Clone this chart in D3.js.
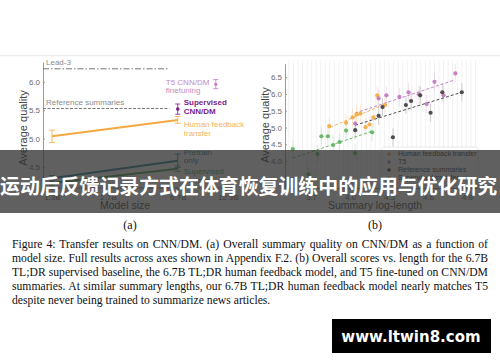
<!DOCTYPE html>
<html>
<head>
<meta charset="utf-8">
<script src="https://cdn.jsdelivr.net/npm/d3@7"></script>
<style>
  body { margin: 0; background: #fff; }
  svg { display: block; font-family: "Liberation Sans", Arial, sans-serif; }
</style>
</head>
<body>
<svg id="fig" width="500" height="362"></svg>
<script>
// ---- panel (a): quality vs. model size ----
const sizeLabels = ['1.3B', '2.7B', '6.7B', '12.9B'];
const sizeValues = [1.3, 2.7, 6.7, 12.9];
const qualityTicksA = [4.5, 5.0, 5.5, 6.0];
const hfTransfer = [{ size: 1.3, q: 5.04, err: 0.11 }, { size: 6.7, q: 5.33, err: 0.06 }];
const pretrainOnly = [{ size: 1.3, q: 4.30, err: 0.05 }, { size: 6.7, q: 4.61, err: 0.12 }];
const supTransfer = [{ size: 1.3, q: 4.22, err: 0.05 }, { size: 6.7, q: 4.47, err: 0.05 }];
const supCnnDm = { size: 6.7, q: 5.52, err: 0.09 };
const t5CnnDm = { size: 11, q: 5.96, err: 0.08 };
const lead3 = 6.23;
const refSummaries = 5.53;

// ---- panel (b): quality vs. summary log-length ----
const qualityTicksB = [4.0, 4.5, 5.0, 5.5, 6.0, 6.5];
const lengthTicks = [3.7, 4.0, 4.3, 4.6, 4.9];
const hfPoints = [[3.84, 5.04], [3.97, 5.14], [4.02, 5.30], [4.05, 5.39], [4.08, 5.42], [4.12, 5.01], [4.15, 5.09], [4.18, 5.30], [4.21, 5.96], [4.27, 5.67]];
const t5Points = [[4.04, 5.12], [4.22, 5.87], [4.28, 5.96], [4.38, 5.91], [4.45, 6.05], [4.53, 5.99], [4.59, 5.70], [4.65, 6.36], [4.72, 5.96], [4.81, 6.61]];
const refPoints = [[4.04, 4.92], [4.22, 5.35], [4.25, 5.61], [4.33, 4.71], [4.43, 5.67], [4.47, 5.79], [4.54, 5.96], [4.62, 5.44], [4.71, 6.05], [4.86, 6.05]];
const supPoints = [[3.56, 4.36], [3.68, 3.61], [3.75, 4.21], [3.78, 4.74], [3.83, 4.74], [3.87, 4.48], [3.92, 4.57], [3.97, 4.91], [4.04, 4.24], [4.17, 4.86]];
const hfFit = [[3.85, 5.01], [4.27, 5.70]];
const t5Fit = [[4.04, 5.43], [4.80, 6.41]];
const refFit = [[4.04, 5.07], [4.86, 6.05]];
const supFit = [[3.56, 4.09], [4.17, 4.89]];
const legendLabels = ['Human feedback transfer', 'T5', 'Reference summaries', 'Supervised transfer'];

const banner = '运动后反馈记录方式在体育恢复训练中的应用与优化研究';
const captionLines = [
  'Figure 4: Transfer results on CNN/DM. (a) Overall summary quality on CNN/DM as a function of',
  'model size. Full results across axes shown in Appendix F.2. (b) Overall scores vs. length for the 6.7B',
  'TL;DR supervised baseline, the 6.7B TL;DR human feedback model, and T5 fine-tuned on CNN/DM',
  'summaries. At similar summary lengths, our 6.7B TL;DR human feedback model nearly matches T5',
  'despite never being trained to summarize news articles.',
];

const C = {
  orange: '#f5a940', teal: '#2d7d8c', green: '#4c9a4c', darkPurple: '#7b1d86',
  t5: '#c176be', t5Label: '#c48cc2', ref: '#3d3d3d', gray: '#8c8c8c', axis: '#9a9a9a', tick: '#6a6a6a',
};
const bColors = [C.orange, C.t5, C.ref, '#5cb35c'];

const svg = d3.select('#fig');
svg.append('rect').attr('width', 500).attr('height', 362).attr('fill', '#fff');
svg.append('line').attr('x1', 0).attr('x2', 500).attr('y1', 55.5).attr('y2', 55.5)
  .attr('stroke', '#ededed').attr('stroke-width', 1.5);

function styleAxis(g) {
  g.selectAll('path.domain').attr('stroke', C.axis);
  g.selectAll('.tick line').attr('stroke', C.axis);
  g.selectAll('.tick text').attr('fill', C.tick).attr('font-size', 8)
    .attr('font-family', '"Liberation Sans", Arial, sans-serif');
}

// ================= panel (a) =================
const xA = d3.scaleLog().domain([1.3, 12.9]).range([52, 228]);
const yA = d3.scaleLinear().domain([4.13, 6.35]).range([188, 62]);
const gA = svg.append('g');

gA.append('g').attr('transform', 'translate(43,0)')
  .call(d3.axisLeft(yA).tickValues(qualityTicksA).tickFormat(d3.format('.1f'))
    .tickSizeInner(-2).tickSizeOuter(0).tickPadding(3))
  .call(styleAxis);
gA.append('g').attr('transform', 'translate(0,188)')
  .call(d3.axisBottom(xA).tickValues(sizeValues).tickFormat((d, i) => sizeLabels[i])
    .tickSizeInner(2).tickSizeOuter(0).tickPadding(4))
  .call(g => g.select('path.domain').attr('d', `M43,0H${xA(12.9) + 6}`))
  .call(styleAxis);

// reference lines
gA.append('line').attr('x1', 43).attr('x2', xA(6.0)).attr('y1', yA(lead3)).attr('y2', yA(lead3))
  .attr('stroke', '#777').attr('stroke-width', 1).attr('stroke-dasharray', '6,2,1.5,2');
gA.append('text').attr('x', 46).attr('y', yA(lead3) - 3.5).attr('font-size', 8).attr('fill', C.gray).text('Lead-3');
gA.append('line').attr('x1', 43).attr('x2', xA(6.0)).attr('y1', yA(refSummaries)).attr('y2', yA(refSummaries))
  .attr('stroke', '#777').attr('stroke-width', 1).attr('stroke-dasharray', '3,1.5');
gA.append('text').attr('x', 46).attr('y', yA(refSummaries) - 3.5).attr('font-size', 8).attr('fill', C.gray).text('Reference summaries');

const lineA = d3.line().x(d => xA(d.size)).y(d => yA(d.q));
function errBar(g, d, color, w) {
  const x = xA(d.size);
  g.append('line').attr('x1', x).attr('x2', x).attr('y1', yA(d.q - d.err)).attr('y2', yA(d.q + d.err))
    .attr('stroke', color).attr('stroke-width', 0.8);
  [d.q - d.err, d.q + d.err].forEach(v => {
    g.append('line').attr('x1', x - w).attr('x2', x + w).attr('y1', yA(v)).attr('y2', yA(v))
      .attr('stroke', color).attr('stroke-width', 0.8);
  });
}

[[supTransfer, C.green], [pretrainOnly, C.teal], [hfTransfer, C.orange]].forEach(([data, color]) => {
  gA.append('path').datum(data).attr('d', lineA).attr('fill', 'none').attr('stroke', color).attr('stroke-width', 2);
  data.forEach(d => errBar(gA, d, color, 3));
});
errBar(gA, supCnnDm, C.darkPurple, 2.5);
gA.append('circle').attr('cx', xA(supCnnDm.size)).attr('cy', yA(supCnnDm.q)).attr('r', 1.8).attr('fill', C.darkPurple);
errBar(gA, t5CnnDm, C.t5, 2.5);
gA.append('circle').attr('cx', xA(t5CnnDm.size)).attr('cy', yA(t5CnnDm.q)).attr('r', 1.5).attr('fill', C.t5);

function label2(g, x, y, lines, color, weight) {
  const t = g.append('text').attr('font-size', 8).attr('fill', color).attr('font-weight', weight || 'normal');
  lines.forEach((s, i) => t.append('tspan').attr('x', x).attr('y', y + i * 8.7).text(s));
}
const labX = xA(6.7) + 6;
label2(gA, xA(t5CnnDm.size) - 50, yA(t5CnnDm.q) + 0.5, ['T5 CNN/DM', 'finetuning'], C.t5Label);
label2(gA, labX, yA(supCnnDm.q) - 4, ['Supervised', 'CNN/DM'], C.darkPurple, 'bold');
label2(gA, labX, yA(hfTransfer[1].q) + 7, ['Human feedback', 'transfer'], '#f4b35c');
label2(gA, labX, yA(pretrainOnly[1].q) - 6, ['Pretrain', 'only'], C.teal);
label2(gA, labX, yA(supTransfer[1].q) + 5.5, ['Supervised', 'transfer'], C.green);

gA.append('text').attr('transform', 'translate(27,128) rotate(-90)').attr('text-anchor', 'middle')
  .attr('font-size', 11).attr('fill', '#444').text('Average quality');
gA.append('text').attr('x', 125).attr('y', 209).attr('text-anchor', 'middle')
  .attr('font-size', 10.5).attr('fill', '#444').text('Model size');

// ================= panel (b) =================
const xB = d3.scaleLinear().domain([3.5, 5.0]).range([285, 480]);
const yB = d3.scaleLinear().domain([3.2, 6.9]).range([188, 63.7]);
const gB = svg.append('g');

// faint vertical grid
gB.append('g').selectAll('line').data(d3.range(3.53, 5.0, 0.035)).join('line')
  .attr('x1', d => xB(d)).attr('x2', d => xB(d)).attr('y1', 60).attr('y2', 188)
  .attr('stroke', '#f2f2f2').attr('stroke-width', 1);

gB.append('g').attr('transform', 'translate(285,0)')
  .call(d3.axisLeft(yB).tickValues(qualityTicksB).tickFormat(d3.format('.1f'))
    .tickSizeInner(-2).tickSizeOuter(0).tickPadding(3))
  .call(styleAxis);
gB.append('g').attr('transform', 'translate(0,188)')
  .call(d3.axisBottom(xB).tickValues(lengthTicks).tickFormat(d3.format('.1f'))
    .tickSizeInner(2).tickSizeOuter(0).tickPadding(4))
  .call(styleAxis);

const groups = [hfPoints, t5Points, refPoints, supPoints];
const fits = [hfFit, t5Fit, refFit, supFit];
const lineB = d3.line().x(d => xB(d[0])).y(d => yB(d[1]));
groups.forEach((pts, i) => {
  const g = gB.append('g');
  g.selectAll('line.err').data(pts).join('line').attr('class', 'err')
    .attr('x1', d => xB(d[0])).attr('x2', d => xB(d[0]))
    .attr('y1', d => yB(d[1] - 0.27)).attr('y2', d => yB(d[1] + 0.27))
    .attr('stroke', bColors[i]).attr('stroke-opacity', 0.22).attr('stroke-width', 1);
});
fits.forEach((f, i) => {
  gB.append('path').datum(f).attr('d', lineB).attr('fill', 'none')
    .attr('stroke', bColors[i]).attr('stroke-width', 1).attr('stroke-dasharray', '3,2').attr('opacity', 0.9);
});
groups.forEach((pts, i) => {
  gB.append('g').selectAll('circle').data(pts).join('circle')
    .attr('cx', d => xB(d[0])).attr('cy', d => yB(d[1])).attr('r', 2.1)
    .attr('fill', bColors[i]).attr('fill-opacity', 0.9);
});

// legend
const leg = gB.append('g').attr('transform', 'translate(382,147)');
leg.append('rect').attr('width', 96).attr('height', 38).attr('fill', '#fff').attr('fill-opacity', 0.85)
  .attr('stroke', '#e2e2e2').attr('stroke-width', 0.8).attr('rx', 1.5);
legendLabels.forEach((s, i) => {
  leg.append('circle').attr('cx', 7).attr('cy', 7 + i * 8).attr('r', 1.8).attr('fill', bColors[i]);
  leg.append('text').attr('x', 16).attr('y', 7 + i * 8).attr('dy', '0.35em')
    .attr('font-size', 7).attr('fill', '#333').text(s);
});

gB.append('text').attr('transform', 'translate(269,125) rotate(-90)').attr('text-anchor', 'middle')
  .attr('font-size', 11).attr('fill', '#444').text('Average quality');
gB.append('text').attr('x', 375).attr('y', 209).attr('text-anchor', 'middle')
  .attr('font-size', 10.5).attr('fill', '#444').text('Summary log-length');

// ================= overlay banner =================
svg.append('rect').attr('x', 0).attr('y', 150).attr('width', 500).attr('height', 63)
  .attr('fill', '#333').attr('fill-opacity', 0.78);
svg.append('text').attr('x', 0).attr('y', 185).attr('dominant-baseline', 'central')
  .attr('font-family', '"Noto Sans CJK SC", sans-serif').attr('font-weight', 'bold')
  .attr('font-size', 19.9).attr('fill', '#fff')
  .text(banner);

// ================= panel tags + caption =================
const serif = '"Liberation Serif", "Times New Roman", serif';
svg.append('text').attr('x', 130).attr('y', 229).attr('text-anchor', 'middle')
  .attr('font-family', serif).attr('font-size', 12).attr('fill', '#111').text('(a)');
svg.append('text').attr('x', 375).attr('y', 229).attr('text-anchor', 'middle')
  .attr('font-family', serif).attr('font-size', 12).attr('fill', '#111').text('(b)');

// caption: pick a size so lines 1-4 roughly fill the column, then justify with word spacing
const fullW = 476;
const baseSize = 12.4;
const cap = svg.append('g').attr('font-family', serif).attr('font-size', baseSize).attr('fill', '#111');
const capTexts = captionLines.map((s, i) => cap.append('text').attr('x', 12).attr('y', 248 + i * 14).text(s));
const maxW = d3.max(capTexts.slice(0, 4), t => t.node().getComputedTextLength());
const capSize = Math.min(baseSize, baseSize * (fullW - 2) / maxW);
cap.attr('font-size', capSize);
capTexts.slice(0, 4).forEach((t, i) => {
  const gaps = captionLines[i].split(' ').length - 1;
  const extra = fullW - t.node().getComputedTextLength();
  t.style('word-spacing', `${extra / gaps}px`);
});

// ================= watermark =================
svg.append('rect').attr('x', 332).attr('y', 319).attr('width', 159).attr('height', 34).attr('fill', '#000');
svg.append('text').attr('x', 411).attr('y', 342).attr('text-anchor', 'middle')
  .attr('font-family', '"DejaVu Sans", sans-serif').attr('font-weight', 'bold').attr('font-size', 15)
  .attr('fill', '#fff').text('www.ltwin8.com');
</script>
</body>
</html>
